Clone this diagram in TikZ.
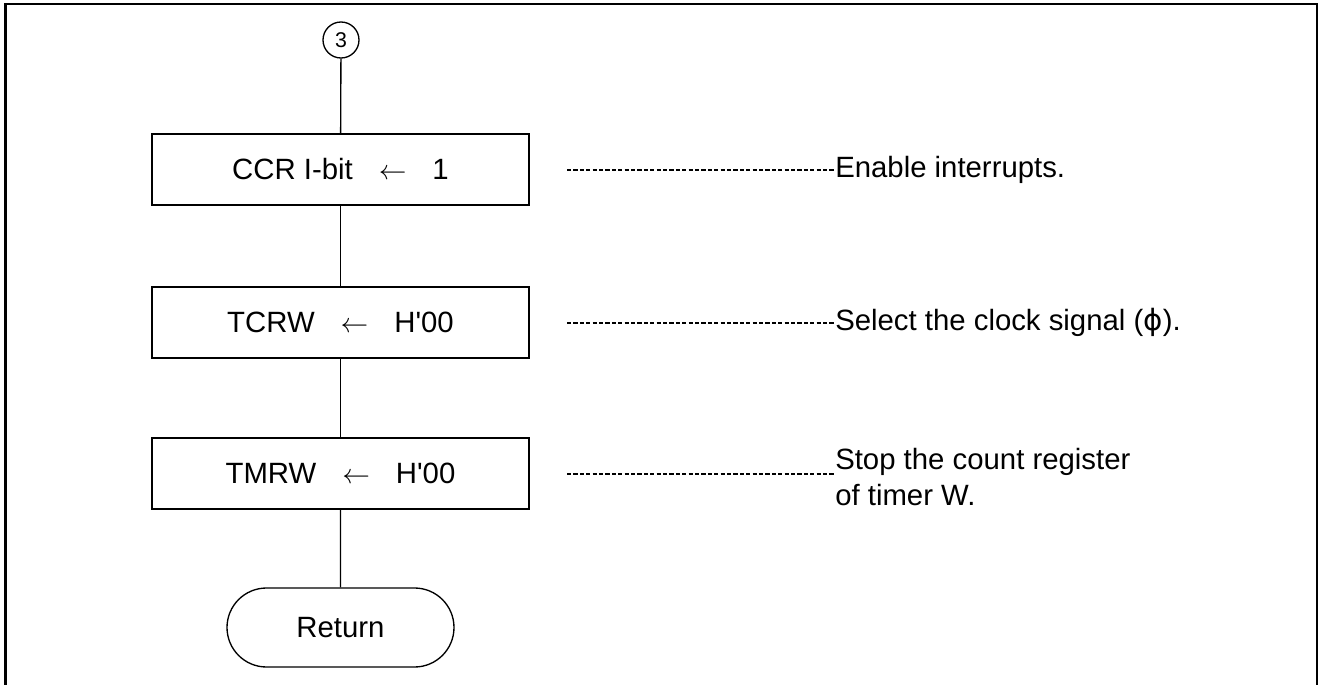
\documentclass[tikz,border=0pt]{standalone}
\usepackage{fontspec}
\setmainfont{Liberation Sans}
\newfontfamily\dejavu{DejaVu Sans}
\usetikzlibrary{shapes.misc}
\newcommand{\boxgap}{\hspace{19.5pt}}
\begin{document}
\begin{tikzpicture}[x=0.75pt,y=-0.75pt,
  every node/.style={font=\fontsize{22pt}{27pt}\selectfont},
  procbox/.style={draw,line width=1pt,minimum width=377*0.75pt,minimum height=71*0.75pt,inner sep=0pt},
  termbox/.style={draw,line width=1pt,rounded rectangle,minimum width=227*0.75pt,minimum height=79*0.75pt,inner sep=0pt},
  conn/.style={draw,line width=1pt,circle,minimum size=36*0.75pt,inner sep=0pt,font=\fontsize{16pt}{18pt}\selectfont},
  flow/.style={line width=1pt},
  note/.style={line width=0.9pt,dash pattern=on 3.2pt off 1.6pt},
  notetext/.style={anchor=base west,align=left,inner sep=0pt}]
\useasboundingbox (0,0) rectangle (1322,685);
\draw[line width=2.2pt] (5.5,700) -- (5.5,4) -- (1317,4) -- (1317,700);
\node[conn] (c3) at (341,40) {3};
\node[procbox] (b1) at (340.5,169.5) {CCR I-bit\boxgap$\leftarrow$\boxgap1};
\node[procbox] (b2) at (340.5,322.5) {TCRW\boxgap$\leftarrow$\boxgap H\textquotesingle00};
\node[procbox] (b3) at (340.5,473.5) {TMRW\boxgap$\leftarrow$\boxgap H\textquotesingle00};
\node[termbox] (ret) at (340.5,627.5) {Return};
\draw[flow] (c3) -- (b1);
\draw[flow] (b1) -- (b2);
\draw[flow] (b2) -- (b3);
\draw[flow] (b3) -- (ret);
\node[notetext] (n1) at (835,177) {Enable interrupts.};
\node[notetext] (n2) at (835,330) {Select the clock signal ({\dejavu ϕ}).};
\node[notetext,anchor=north west] (n3) at (835,448) {Stop the count register\\of timer W.};
\coordinate (d1) at (567,170);
\coordinate (d2) at (567,323);
\coordinate (d3) at (567,474);
\draw[note] (d1) -- (d1 -| n1.west);
\draw[note] (d2) -- (d2 -| n2.west);
\draw[note] (d3) -- (d3 -| n3.west);
\end{tikzpicture}
\end{document}
